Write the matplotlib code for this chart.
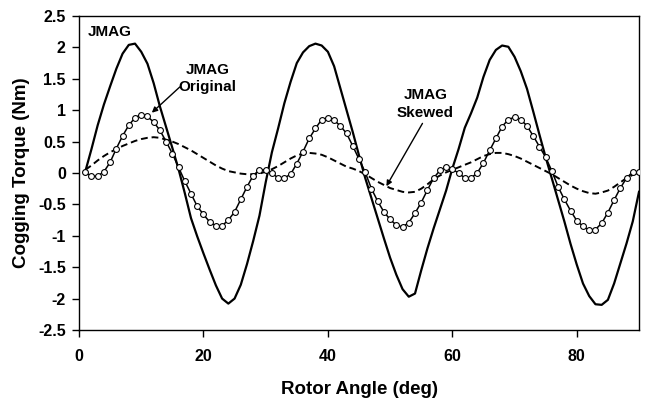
import matplotlib
matplotlib.use("Agg")
import matplotlib.pyplot as plt
import numpy as np

plt.rcParams['font.family'] = ['Liberation Sans', 'DejaVu Sans']
plt.rcParams['font.weight'] = 'bold'

angle = list(range(1, 91))

jmag = [0.02, 0.38, 0.76, 1.09, 1.38, 1.66, 1.90, 2.04, 2.06, 1.93,
        1.74, 1.43, 1.06, 0.73, 0.40, 0.06, -0.32, -0.72, -1.01, -1.28,
        -1.54, -1.79, -2.00, -2.08, -2.00, -1.78, -1.45, -1.08, -0.68, -0.15,
        0.33, 0.71, 1.11, 1.45, 1.75, 1.92, 2.02, 2.06, 2.03, 1.93,
        1.70, 1.35, 1.00, 0.65, 0.28, -0.08, -0.40, -0.72, -1.04, -1.35,
        -1.62, -1.85, -1.97, -1.92, -1.55, -1.20, -0.88, -0.58, -0.28, 0.07,
        0.38, 0.72, 0.95, 1.20, 1.53, 1.80, 1.96, 2.03, 2.01, 1.85,
        1.62, 1.34, 0.98, 0.61, 0.25, -0.09, -0.43, -0.77, -1.13, -1.46,
        -1.76, -1.96, -2.09, -2.10, -2.02, -1.76, -1.44, -1.12, -0.77, -0.30]

original = [0.01, -0.05, -0.05, 0.02, 0.17, 0.39, 0.59, 0.76, 0.88, 0.93,
            0.90, 0.81, 0.68, 0.50, 0.31, 0.09, -0.13, -0.33, -0.53, -0.66,
            -0.78, -0.84, -0.84, -0.75, -0.62, -0.42, -0.22, -0.04, 0.05, 0.05,
            0.00, -0.08, -0.08, -0.02, 0.15, 0.34, 0.55, 0.71, 0.85, 0.88,
            0.84, 0.75, 0.63, 0.43, 0.22, 0.01, -0.25, -0.45, -0.62, -0.74,
            -0.83, -0.86, -0.79, -0.64, -0.47, -0.27, -0.08, 0.04, 0.09, 0.06,
            0.00, -0.08, -0.08, 0.00, 0.16, 0.36, 0.55, 0.74, 0.85, 0.89,
            0.85, 0.75, 0.59, 0.42, 0.25, 0.03, -0.22, -0.42, -0.60, -0.76,
            -0.85, -0.91, -0.90, -0.80, -0.63, -0.43, -0.24, -0.08, 0.02, 0.02]

skewed = [0.05, 0.12, 0.20, 0.27, 0.33, 0.38, 0.43, 0.47, 0.51, 0.54,
          0.56, 0.57, 0.56, 0.53, 0.50, 0.46, 0.41, 0.36, 0.30, 0.24,
          0.18, 0.12, 0.07, 0.03, 0.01, -0.01, -0.02, -0.02, -0.01, 0.02,
          0.06, 0.11, 0.17, 0.23, 0.28, 0.31, 0.32, 0.31, 0.29, 0.25,
          0.20, 0.15, 0.10, 0.07, 0.03, -0.02, -0.08, -0.14, -0.19, -0.24,
          -0.27, -0.30, -0.31, -0.30, -0.25, -0.18, -0.10, -0.04, 0.01, 0.05,
          0.09, 0.13, 0.17, 0.22, 0.27, 0.30, 0.32, 0.32, 0.30, 0.27,
          0.23, 0.18, 0.13, 0.08, 0.03, -0.02, -0.08, -0.14, -0.20, -0.25,
          -0.29, -0.32, -0.33, -0.31, -0.28, -0.22, -0.15, -0.08, -0.03, 0.01]

xticks = [0, 20, 40, 60, 80]
yticks = [-2.5, -2, -1.5, -1, -0.5, 0, 0.5, 1, 1.5, 2, 2.5]
ytick_labels = ['-2.5', '-2', '-1.5', '-1', '-0.5', '0', '0.5', '1', '1.5', '2', '2.5']

fig = plt.figure(figsize=(6.45, 3.98), dpi=100)
ax = fig.add_axes([0.1225, 0.1709, 0.8682, 0.7889])

ax.plot(angle, jmag, color='black', lw=1.6, zorder=3)
ax.plot(angle, skewed, color='black', lw=1.4, ls=(0, (3.5, 2.0)), zorder=2)
ax.plot(angle, original, color='black', lw=1.1, marker='o', ms=4.2,
        mfc='white', mec='black', mew=0.8, zorder=4)

ax.set_xlim(0, 90)
ax.set_ylim(-2.5, 2.5)
ax.set_xticks(xticks)
ax.set_yticks(yticks)
ax.set_yticklabels(ytick_labels)
ax.tick_params(direction='out', length=5, width=1.0, labelsize=11.5, pad=4.5)
for lab in ax.get_xticklabels() + ax.get_yticklabels():
    lab.set_fontweight('bold')
ax.tick_params(axis='x', pad=9)
for s in ax.spines.values():
    s.set_linewidth(1.0)

ax.set_xlabel('Rotor Angle (deg)', fontsize=13.5, fontweight='bold', labelpad=12)
ax.set_ylabel('Cogging Torque (Nm)', fontsize=13.5, fontweight='bold', labelpad=6)

ax.text(1.45, 2.25, 'JMAG', fontsize=11, fontweight='bold', ha='left', va='center')

ax.text(20.7, 1.50, 'JMAG\nOriginal', fontsize=11, fontweight='bold',
        ha='center', va='center', linespacing=1.3)
ax.annotate('', xy=(11.7, 0.96), xytext=(16.2, 1.37),
            arrowprops=dict(arrowstyle='-|>', color='black', lw=1.0,
                            mutation_scale=8, shrinkA=0, shrinkB=0))

ax.text(55.7, 1.10, 'JMAG\nSkewed', fontsize=11, fontweight='bold',
        ha='center', va='center', linespacing=1.3)
ax.annotate('', xy=(49.4, -0.21), xytext=(55.2, 0.79),
            arrowprops=dict(arrowstyle='-|>', color='black', lw=1.0,
                            mutation_scale=8, shrinkA=0, shrinkB=0))

fig.savefig('out.png', dpi=100)
